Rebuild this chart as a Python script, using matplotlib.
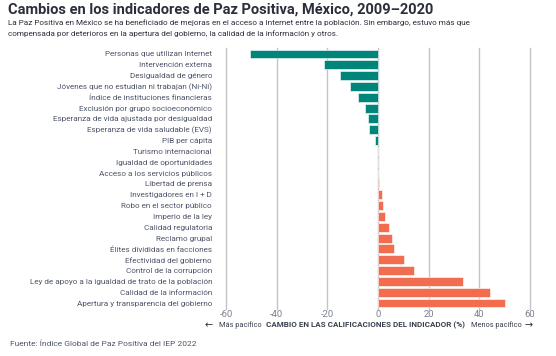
import numpy as np
import matplotlib.pyplot as plt

plt.rcParams['font.family'] = ['Roboto', 'DejaVu Sans']

# Indicadores de Paz Positiva, de arriba hacia abajo
indicadores = [
    'Personas que utilizan Internet',
    'Intervención externa',
    'Desigualdad de género',
    'Jóvenes que no estudian ni trabajan (Ni-Ni)',
    'Índice de instituciones financieras',
    'Exclusión por grupo socioeconómico',
    'Esperanza de vida ajustada por desigualdad',
    'Esperanza de vida saludable (EVS)',
    'PIB per cápita',
    'Turismo internacional',
    'Igualdad de oportunidades',
    'Acceso a los servicios públicos',
    'Libertad de prensa',
    'Investigadores en I + D',
    'Robo en el sector público',
    'Imperio de la ley',
    'Calidad regulatoria',
    'Reclamo grupal',
    'Élites divididas en facciones',
    'Efectividad del gobierno',
    'Control de la corrupción',
    'Ley de apoyo a la igualdad de trato de la población',
    'Calidad de la información',
    'Apertura y transparencia del gobierno',
]
cambio = [-50.5, -21.3, -15.0, -11.0, -7.8, -5.3, -4.1, -3.4, -1.1,
          0.0, 0.0, 0.0, 0.3, 1.6, 2.1, 2.8, 4.5, 5.6, 6.4, 10.4, 14.2,
          33.5, 44.1, 50.2]
xticks = [-60, -40, -20, 0, 20, 40, 60]

TEAL = '#00857A'
NARANJA = '#F26D4F'
GRIS = '#50566a'

W, H = 556, 356
fig = plt.figure(figsize=(W / 100, H / 100), dpi=100)
ax = fig.add_axes([226 / W, 1 - 309 / H, (530 - 226) / W, (309 - 48) / H])

y = np.arange(len(indicadores))
colores = [TEAL if v < 0 else NARANJA for v in cambio]
ax.barh(y, cambio, height=0.82, color=colores, edgecolor='white', linewidth=0.4, zorder=3)

ax.set_ylim(len(indicadores) - 0.45, -0.55)
ax.set_xlim(-60, 60)
ax.set_xticks(xticks)
ax.set_xticklabels([str(t) for t in xticks], fontsize=6.8, color='#7a8090')
ax.set_yticks(y)
ax.set_yticklabels(indicadores, fontsize=5.9, color=GRIS)
ax.tick_params(axis='x', length=0, pad=1)
ax.tick_params(axis='y', length=0, pad=10)
for t in xticks:
    ax.axvline(t, color='#c4c4c4', linewidth=1.0, zorder=1, clip_on=False)
for s in ax.spines.values():
    s.set_visible(False)
ax.patch.set_alpha(0)


def px(x, yy):
    return x / W, 1 - yy / H


fig.text(*px(8, 10), 'Cambios en los indicadores de Paz Positiva, México, 2009–2020',
         fontsize=10.5, fontweight='bold', color='#2b2f3a', va='center')
fig.text(*px(8, 23), 'La Paz Positiva en México se ha beneficiado de mejoras en el acceso a Internet entre la población. Sin embargo, estuvo más que',
         fontsize=5.9, color='#2b2f3a', va='center')
fig.text(*px(8, 34), 'compensada por deterioros en la apertura del gobierno, la calidad de la información y otros.',
         fontsize=5.9, color='#2b2f3a', va='center')

fig.text(*px(209, 325), '←', fontsize=7, color='#2b2f3a', va='center', ha='center')
fig.text(*px(219, 325), 'Más pacífico', fontsize=5.3, color='#3a4050', va='center')
fig.text(*px(365, 325), 'CAMBIO EN LAS CALIFICACIONES DEL INDICADOR (%)', fontsize=5.8,
         fontweight='bold', color='#3a4050', va='center', ha='center')
fig.text(*px(471, 325), 'Menos pacífico', fontsize=5.3, color='#3a4050', va='center')
fig.text(*px(529, 325), '→', fontsize=7, color='#2b2f3a', va='center', ha='center')

fig.text(*px(10, 344), 'Fuente: Índice Global de Paz Positiva del IEP 2022',
         fontsize=6.0, color=GRIS, va='center')

fig.savefig('out.png', dpi=100)
